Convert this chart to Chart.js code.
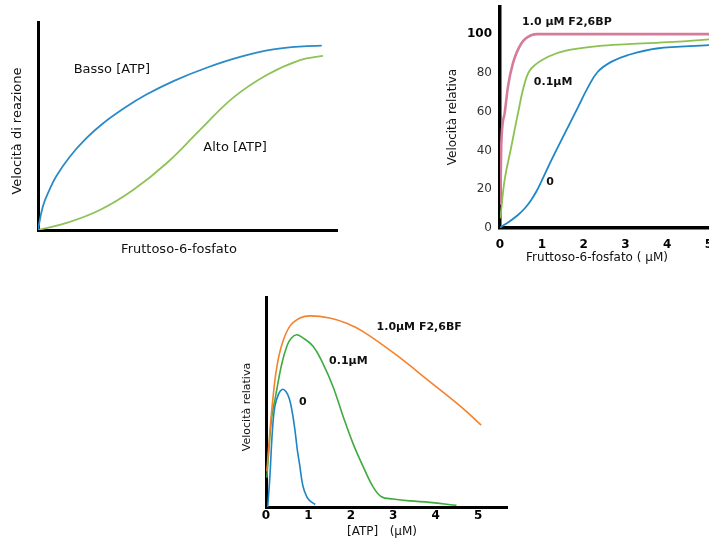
<!DOCTYPE html>
<html lang="it">
<head>
  <meta charset="UTF-8" />
  <title>Fosfofruttochinasi - curve di velocità</title>
  <script src="https://cdn.jsdelivr.net/npm/chart.js"></script>
  <style>
    body { margin: 0; background: #fff; width: 709px; height: 542px; overflow: hidden; position: relative; }
    canvas { position: absolute; }
  </style>
</head>
<body>
  <canvas id="c1" width="345" height="270" style="left:0;top:0"></canvas>
  <canvas id="c2" width="269" height="280" style="left:440px;top:0"></canvas>
  <canvas id="c3" width="290" height="257" style="left:230px;top:285px"></canvas>

  <script>
    // --- Grafico 1: velocità vs fruttoso-6-fosfato (unità arbitrarie, 0-10 / 0-100)
    const g1BassoX = [0, 0.16, 0.38, 0.6, 1.05, 1.61, 2.16, 2.94, 3.61, 4.53, 5.64, 6.76, 7.87, 8.99, 9.49];
    const g1BassoY = [0, 11.2, 19.2, 25.6, 35.0, 44.0, 51.1, 59.1, 65.0, 71.6, 78.0, 83.2, 86.8, 88.4, 88.6];
    const g1AltoX = [0, 0.96, 2.07, 3.18, 4.31, 5.42, 6.52, 7.65, 8.76, 9.53];
    const g1AltoY = [0, 3.4, 9.6, 19.2, 32.2, 48.1, 63.5, 74.5, 81.7, 83.7];

    // --- Grafico 2: velocità relativa vs fruttoso-6-fosfato (μM), diverse [F2,6BP]
    const g2AltoX = [0, 0.02, 0.03, 0.11, 0.19, 0.31, 0.51, 0.75, 0.9, 5];
    const g2AltoY = [12, 30, 43, 59, 72.8, 85, 95.2, 99.5, 100, 100];
    const g2MedioX = [0, 0.02, 0.11, 0.27, 0.43, 0.59, 0.75, 1.15, 1.55, 2.34, 3.06, 4.15, 5];
    const g2MedioY = [5, 7.6, 24.7, 41.9, 59.1, 74.6, 82.3, 88.3, 91.4, 93.8, 94.8, 96, 97.3];
    const g2ZeroX = [0, 0.03, 0.2, 0.43, 0.6, 0.75, 0.87, 0.99, 1.23, 1.55, 1.87, 2.11, 2.34, 2.66, 3.06, 3.75, 5];
    const g2ZeroY = [0, 0.7, 3, 6.7, 10.3, 14.6, 18.8, 24, 35, 48.8, 62.5, 72.8, 80.6, 85.7, 89.2, 92.6, 94.3];
    const g2XTicks = [0, 1, 2, 3, 4, 5];
    const g2YTicks = [0, 20, 40, 60, 80, 100];

    // --- Grafico 3: velocità relativa vs [ATP] (μM)
    const g3AltoX = [0.02, 0.1, 0.17, 0.25, 0.37, 0.56, 0.8, 1.05, 1.5, 1.9, 2.29, 3.07, 3.86, 4.64, 5.07];
    const g3AltoY = [17, 38, 53, 66, 77, 86, 90, 91, 90, 87.5, 83.5, 72.4, 59.7, 47, 39];
    const g3MedioX = [0.02, 0.13, 0.21, 0.37, 0.5, 0.6, 0.72, 0.85, 1.11, 1.34, 1.58, 1.82, 2.05, 2.29, 2.52, 2.72, 3.0, 3.39, 3.86, 4.49];
    const g3MedioY = [14, 42, 51, 68, 77, 80.5, 82, 80.8, 76.6, 68.4, 57.3, 43, 30.3, 19.2, 9.7, 4.9, 3.8, 2.9, 2.2, 0.8];
    const g3ZeroX = [0.04, 0.09, 0.15, 0.21, 0.3, 0.38, 0.47, 0.55, 0.62, 0.68, 0.74, 0.79, 0.87, 0.96, 1.03, 1.16];
    const g3ZeroY = [0, 14, 36, 48, 54, 56, 55, 51.5, 45, 37, 27, 20.5, 10, 4.9, 3, 1.2];
    const g3XTicks = [0, 1, 2, 3, 4, 5];

    const SANS = '"DejaVu Sans", Verdana, sans-serif';
    Chart.defaults.font.family = SANS;
    Chart.defaults.color = '#111';

    function pts(xs, ys) {
      return xs.map((x, i) => ({ x: x, y: ys[i] }));
    }

    // curve lisce (tensione); 'monotone' solo dove c'è un plateau da non superare
    function curve(label, xs, ys, color, width, monotone) {
      return {
        label: label,
        data: pts(xs, ys),
        borderColor: color,
        borderWidth: width,
        pointRadius: 0,
        fill: false,
        tension: 0.4,
        cubicInterpolationMode: monotone ? 'monotone' : 'default'
      };
    }

    // scritte: in coordinate dei dati (data:true) o in pixel del canvas
    function textPlugin(items) {
      return {
        id: 'texts',
        afterDatasetsDraw(chart) {
          const ctx = chart.ctx;
          items.forEach(t => {
            const px = t.data ? chart.scales.x.getPixelForValue(t.x) : t.x;
            const py = t.data ? chart.scales.y.getPixelForValue(t.y) : t.y;
            ctx.save();
            ctx.font = t.font;
            ctx.fillStyle = '#111';
            ctx.textAlign = 'center';
            ctx.textBaseline = 'middle';
            ctx.translate(px, py);
            if (t.rot) ctx.rotate(t.rot);
            ctx.fillText(t.text, 0, 0);
            ctx.restore();
          });
        }
      };
    }

    function axis(o) {
      return {
        type: 'linear',
        min: 0,
        max: o.max,
        grid: { display: false, drawTicks: false },
        border: { display: true, color: '#000', width: o.border },
        ticks: o.ticks ? Object.assign({ display: true, autoSkip: false }, o.ticks) : { display: false },
        afterBuildTicks: s => {
          if (o.values) s.ticks = o.values.map(v => ({ value: v }));
        },
        afterFit: s => {
          if (o.size.w !== undefined) s.width = o.size.w;
          if (o.size.h !== undefined) s.height = o.size.h;
          s.paddingLeft = 0; s.paddingRight = 0; s.paddingTop = 0; s.paddingBottom = 0;
        }
      };
    }

    function baseOptions(padding, xAxis, yAxis) {
      return {
        responsive: false,
        animation: false,
        layout: { padding: padding },
        plugins: { legend: { display: false }, tooltip: { enabled: false } },
        scales: { x: xAxis, y: yAxis }
      };
    }

    // Grafico 1
    new Chart(document.getElementById('c1'), {
      type: 'line',
      data: {
        datasets: [
          curve('Basso [ATP]', g1BassoX, g1BassoY, '#2b8bc6', 1.8),
          curve('Alto [ATP]', g1AltoX, g1AltoY, '#8fc25a', 1.8)
        ]
      },
      options: baseOptions(
        { top: 22, right: 8, left: 0, bottom: 0 },
        axis({ max: 10, border: 3, size: { h: 40 } }),
        axis({ max: 100, border: 3, size: { w: 38 } })
      ),
      plugins: [textPlugin([
        { text: 'Basso [ATP]', data: true, x: 2.47, y: 76.9, font: '13px ' + SANS },
        { text: 'Alto [ATP]', data: true, x: 6.59, y: 39.4, font: '13px ' + SANS },
        { text: 'Fruttoso-6-fosfato', x: 179, y: 250, font: '13px ' + SANS },
        { text: 'Velocità di reazione', x: 18, y: 131, rot: -Math.PI / 2, font: '13px ' + SANS }
      ])]
    });

    // Grafico 2
    new Chart(document.getElementById('c2'), {
      type: 'line',
      data: {
        datasets: [
          curve('1.0 μM F2,6BP', g2AltoX, g2AltoY, '#d67b9b', 2.6, true),
          curve('0.1 μM', g2MedioX, g2MedioY, '#8cc152', 1.8),
          curve('0', g2ZeroX, g2ZeroY, '#1f87c6', 1.8)
        ]
      },
      options: baseOptions(
        { top: 7, right: 0, left: 0, bottom: 0 },
        axis({ max: 5, border: 3.5, size: { h: 52 }, values: g2XTicks,
               ticks: { padding: 10, color: '#000', font: { size: 12, weight: 'bold' } } }),
        axis({ max: 114, border: 3.5, size: { w: 60 }, values: g2YTicks,
               ticks: { padding: 8, color: c => c.tick && c.tick.value === 100 ? '#000' : '#333',
                        font: c => ({ size: 12, weight: c.tick && c.tick.value === 100 ? 'bold' : 'normal' }) } })
      ),
      plugins: [textPlugin([
        { text: '1.0 μM F2,6BP', data: true, x: 1.6, y: 106, font: 'bold 11px ' + SANS },
        { text: '0.1μM', data: true, x: 1.27, y: 75.3, font: 'bold 11px ' + SANS },
        { text: '0', data: true, x: 1.2, y: 23.7, font: 'bold 11px ' + SANS },
        { text: 'Fruttoso-6-fosfato ( μM)', x: 157, y: 258, font: '12px ' + SANS },
        { text: 'Velocità relativa', x: 13, y: 117, rot: -Math.PI / 2, font: '12px ' + SANS }
      ])]
    });

    // Grafico 3
    new Chart(document.getElementById('c3'), {
      type: 'line',
      data: {
        datasets: [
          curve('1.0μM F2,6BF', g3AltoX, g3AltoY, '#f5822c', 1.6),
          curve('0.1μM', g3MedioX, g3MedioY, '#3eab3e', 1.6),
          curve('0', g3ZeroX, g3ZeroY, '#1f83c4', 1.6)
        ]
      },
      options: baseOptions(
        { top: 12, right: 13, left: 0, bottom: 0 },
        axis({ max: 5.68, border: 3, size: { h: 35 }, values: g3XTicks,
               ticks: { padding: 2, color: '#000', font: { size: 12, weight: 'bold' } } }),
        axis({ max: 100, border: 3, size: { w: 36 } })
      ),
      plugins: [textPlugin([
        { text: '1.0μM F2,6BF', data: true, x: 3.61, y: 85.7, font: 'bold 11px ' + SANS },
        { text: '0.1μM', data: true, x: 1.94, y: 69.5, font: 'bold 11px ' + SANS },
        { text: '0', data: true, x: 0.87, y: 50, font: 'bold 11px ' + SANS },
        { text: '[ATP]   (μM)', x: 152, y: 247, font: '12px ' + SANS },
        { text: 'Velocità relativa', x: 17, y: 122, rot: -Math.PI / 2, font: '11px ' + SANS }
      ])]
    });
  </script>
</body>
</html>
